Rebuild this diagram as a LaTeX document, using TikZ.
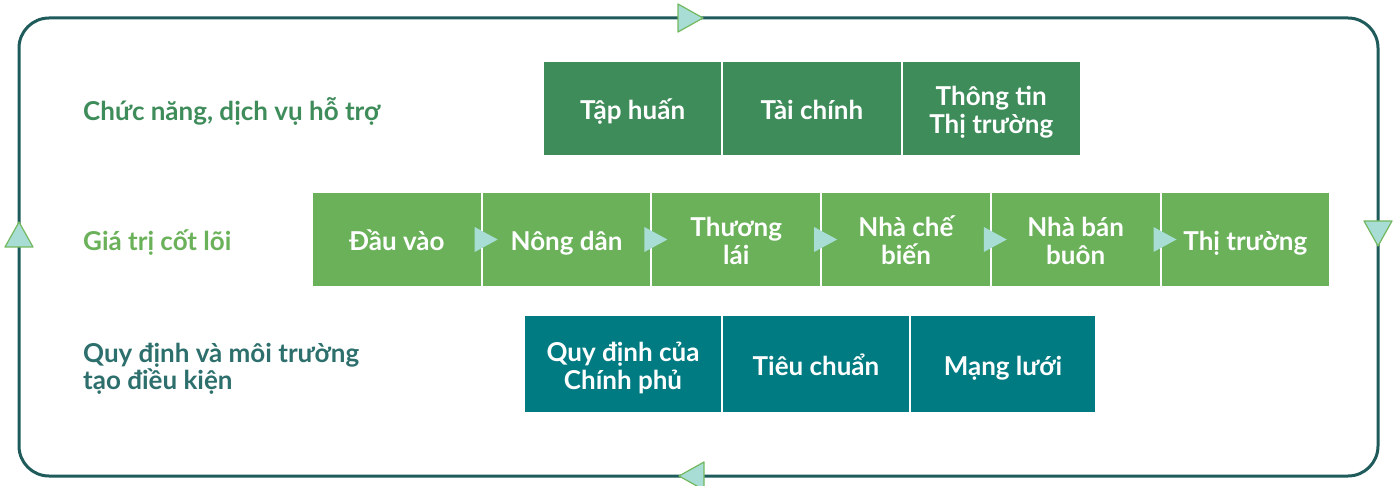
\documentclass[tikz,border=0pt]{standalone}
\usepackage{fontspec}
\setmainfont{Lato}
\usetikzlibrary{positioning,calc}
\definecolor{rowone}{HTML}{3F8C5B}
\definecolor{rowtwo}{HTML}{6AB15A}
\definecolor{rowthree}{HTML}{007B82}
\definecolor{framecol}{HTML}{1F5B5A}
\definecolor{trifill}{HTML}{A8DDD6}
\definecolor{triline}{HTML}{72B85E}
\definecolor{labthree}{HTML}{2C6F6C}
\begin{document}
\begin{tikzpicture}
  [x=1pt,y=-1pt,node distance=0pt,
   cell/.style={draw=white,line width=1pt,text=white,align=center,inner sep=0pt,
     font=\bfseries\fontsize{26}{28}\selectfont,
     text height=28pt,text depth=6pt},
   twoline/.style={text height=56pt},
   one/.style={cell,fill=rowone,minimum width=178.3pt,minimum height=94pt},
   two/.style={cell,fill=rowtwo,minimum width=168.7pt,minimum height=94pt},
   three/.style={cell,fill=rowthree,minimum height=97pt},
   rowlabel/.style={anchor=west,align=left,inner sep=0pt,font=\bfseries\fontsize{26}{27}\selectfont},
   tri/.style={fill=trifill,draw=triline,line width=1.2pt,line join=round},
   chev/.style={fill=trifill}]
\useasboundingbox (0,0) rectangle (1400,486);
% outer cycle
\draw[framecol,line width=3pt,rounded corners=30pt] (19,18) rectangle (1378,476);
\draw[tri] (678,4) -- (703,18) -- (678,32) -- cycle;
\draw[tri] (5,247) -- (19,222) -- (33,247) -- cycle;
\draw[tri] (1364,221) -- (1378,246) -- (1392,221) -- cycle;
\draw[tri] (704,462) -- (679,476) -- (704,490) -- cycle;

% row labels
\node[rowlabel,text=rowone] (lone) at (83,111) {Chức năng, dịch vụ hỗ trợ};
\node[rowlabel,text=rowtwo] (ltwo) at (83,243) {Giá trị cốt lõi};
\node[rowlabel,text=labthree] (lthree) at (83,369) {Quy định và môi trường\\tạo điều kiện};

% support functions
\node[one,anchor=north west] (taphuan) at (543,61) {Tập huấn};
\node[one,right=of taphuan] (taichinh) {Tài chính};
\node[one,twoline,right=of taichinh] (thongtin) {Thông tin\\Thị trường};

% core chain
\node[two,anchor=north west] (dauvao) at (312,192) {Đầu vào};
\node[two,right=of dauvao] (nongdan) {Nông dân};
\node[two,twoline,right=of nongdan] (thuonglai) {Thương\\lái};
\node[two,twoline,right=of thuonglai] (chebien) {Nhà chế\\biến};
\node[two,twoline,right=of chebien] (banbuon) {Nhà bán\\buôn};
\node[two,right=of banbuon] (thitruong) {Thị trường};
\foreach \b in {dauvao,nongdan,thuonglai,chebien,banbuon}
  \fill[chev] ($(\b.east)+(-7,-12.5)$) -- ++(23,12.5) -- ++(-23,12.5) -- cycle;

% rules and environment
\node[three,twoline,minimum width=197pt,anchor=north west] (quydinh) at (524,315) {Quy định của\\Chính phủ};
\node[three,minimum width=187pt,right=of quydinh] (tieuchuan) {Tiêu chuẩn};
\node[three,minimum width=185pt,right=of tieuchuan] (mangluoi) {Mạng lưới};
\end{tikzpicture}
\end{document}
